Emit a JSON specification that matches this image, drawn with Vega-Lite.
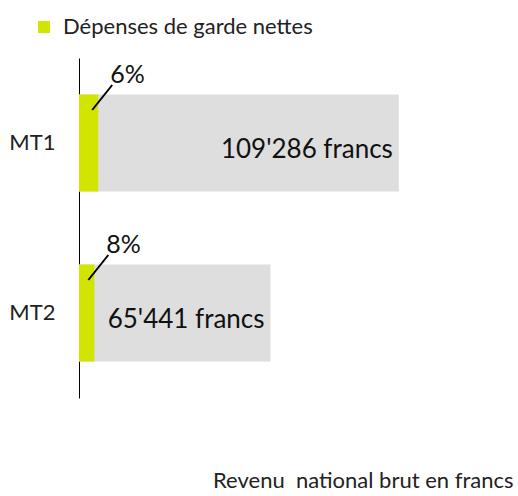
{
  "$schema": "https://vega.github.io/schema/vega-lite/v6.json",
  "autosize": {"type": "none"},
  "padding": {"left": 79, "top": 58, "right": 0, "bottom": 98},
  "width": 439,
  "height": 340,
  "background": "white",
  "config": {"font": "Lato", "view": {"stroke": null}},
  "data": {"values": [
    {"cat": "MT1", "revenu": 109286, "garde": 6557, "pct": "6%", "label": "109'286 francs"},
    {"cat": "MT2", "revenu": 65441, "garde": 5235, "pct": "8%", "label": "65'441 francs"}
  ]},
  "encoding": {
    "y": {"field": "cat", "type": "nominal", "sort": ["MT1", "MT2"],
      "scale": {"paddingInner": 0.4294, "paddingOuter": 0.2147},
      "axis": {"title": null, "domainColor": "black", "domainWidth": 1, "ticks": false,
        "labelFontSize": 22, "labelColor": "#222222", "labelPadding": 24, "labelFont": "Lato"}}
  },
  "layer": [
    {"mark": {"type": "bar", "color": "#dedede"},
     "encoding": {"x": {"field": "revenu", "type": "quantitative",
        "scale": {"domain": [0, 150000], "nice": false},
        "axis": {"domain": false, "labels": false, "ticks": false, "grid": false,
          "title": "Revenu\u00a0 national brut en francs", "titleFontSize": 22, "titleFontWeight": "normal",
          "titleColor": "#222222", "titleAnchor": "end", "titleAlign": "right", "titleX": 434, "titleY": 89,
          "titleBaseline": "alphabetic"}}}},
    {"mark": {"type": "bar", "strokeWidth": 0},
     "encoding": {"x": {"field": "garde", "type": "quantitative"},
       "color": {"datum": "Dépenses de garde nettes", "type": "nominal", "scale": {"range": ["#d2e500"]},
         "legend": {"title": null, "orient": "none", "legendX": -46, "legendY": -42, "padding": 0,
           "symbolType": "square", "symbolSize": 144, "symbolStrokeWidth": 0, "labelFontSize": 22,
           "labelColor": "#222222", "labelOffset": 8, "labelFont": "Lato", "labelLimit": 500}}}},
    {"mark": {"type": "rule", "color": "black", "strokeWidth": 2, "xOffset": -6, "x2Offset": 14, "yOffset": -33, "y2Offset": -58},
     "encoding": {"x": {"field": "garde", "type": "quantitative"}, "x2": {"field": "garde"}, "y2": {"field": "cat"}}},
    {"mark": {"type": "text", "align": "left", "baseline": "middle", "dx": 12, "dy": -68, "fontSize": 25, "color": "#111111"},
     "encoding": {"x": {"field": "garde", "type": "quantitative"}, "text": {"field": "pct"}}},
    {"mark": {"type": "text", "align": "right", "baseline": "middle", "dx": -6, "dy": 7, "fontSize": 26, "color": "#111111"},
     "encoding": {"x": {"field": "revenu", "type": "quantitative"}, "text": {"field": "label"}}}
  ]
}
